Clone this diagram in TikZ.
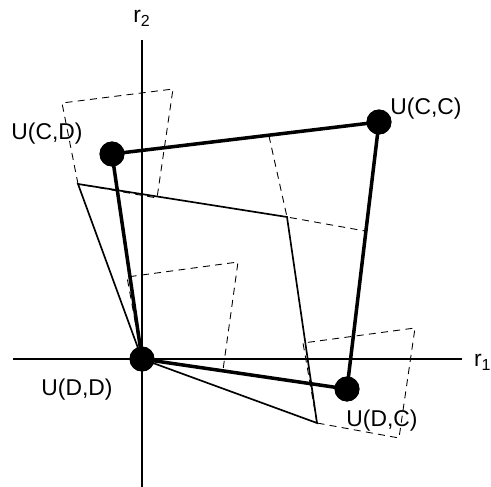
\documentclass[tikz,border=0pt]{standalone}
\usepackage{fontspec}
\setmainfont{Liberation Sans}
\usetikzlibrary{positioning}

\begin{document}
\begin{tikzpicture}[
  x=0.02cm, y=-0.02cm,
  every node/.style={font=\fontsize{13}{15}\selectfont, inner sep=1pt},
  dot/.style={circle, fill=black, minimum size=0.5cm, inner sep=0pt},
  axis/.style={line width=1.1pt},
  thinedge/.style={line width=0.95pt},
  thickedge/.style={line width=2pt},
  box/.style={line width=0.5pt, dash pattern=on 4pt off 3pt}
]
  \useasboundingbox (0,0) rectangle (491,487);

  % Axes
  \coordinate (xl) at (13,359);
  \coordinate (xr) at (462,359);
  \coordinate (yt) at (142,40);
  \coordinate (yb) at (142,487);
  \draw [axis] (xl) -- (xr);
  \draw [axis] (yt) -- (yb);
  \node (r1) [anchor=west] at (472,362) {r\textsubscript{1}};
  \node (r2) at (142,18) {r\textsubscript{2}};

  % Nodes
  \node (dd) [dot] at (142,359) {};
  \node (cd) [dot] at (112,154) {};
  \node (cc) [dot] at (379,122) {};
  \node (dc) [dot] at (347,389) {};

  \node (ldd) at (77,390) {U(D,D)};
  \node (lcd) at (47,134) {U(C,D)};
  \node (lcc) at (426,109) {U(C,C)};
  \node (ldc) at (382,421) {U(D,C)};

  \coordinate (pcd) at (78,184);
  \coordinate (pcc) at (287,217);
  \coordinate (pdc) at (317,423);

  % Dashed boxes
  \draw [box] (pcd) -- (62,103) -- (173,89) -- (157,198) -- cycle;
  \draw [box] (cc.center) -- (269,136) -- (pcc) -- (365,231) -- cycle;
  \draw [box] (dd.center) -- (127,277) -- (238,262) -- (223,370) -- cycle;
  \draw [box] (pdc) -- (303,343) -- (415,328) -- (399,438) -- cycle;

  % Paths
  \draw [thinedge] (dd.center) -- (pcd) -- (pcc) -- (pdc) -- cycle;
  \draw [thickedge] (dd.center) -- (cd.center) -- (cc.center) -- (dc.center) -- cycle;

  % Dots on top
  \foreach \n in {dd,cd,cc,dc}
    \fill (\n) circle (0.25cm);
\end{tikzpicture}
\end{document}
